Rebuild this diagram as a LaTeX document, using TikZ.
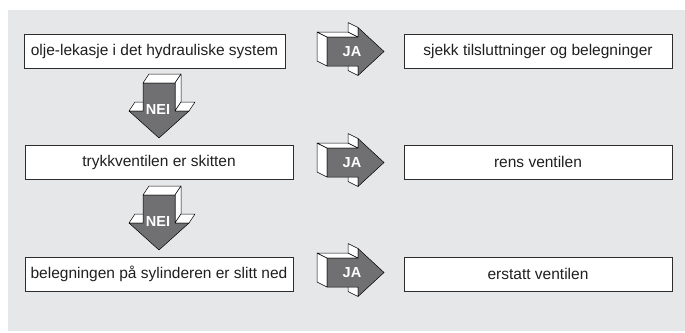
\documentclass[tikz,border=0pt]{standalone}
\usepackage{fontspec}
\setmainfont{Liberation Sans}
\definecolor{bgc}{RGB}{230,231,233}
\definecolor{arrgray}{RGB}{112,112,114}
\definecolor{boxline}{RGB}{45,45,45}
\tikzset{
  textbox/.style={draw=boxline, line width=0.9pt, fill=white, minimum height=34pt,
    inner sep=0pt, font=\fontsize{15.5}{18}\selectfont, text=black!88},
  face/.style={fill=white, draw=black, line width=0.5pt, line join=round},
  frontface/.style={fill=arrgray, draw=black, line width=0.5pt, line join=round},
  arrlabel/.style={text=white, font=\bfseries\fontsize{14.5}{16}\selectfont, inner sep=0pt},
  ja/.pic={
    \path[face] (0,-14.5) -- (-10,-19.5) -- (-10,9.5) -- (0,14.5) -- cycle;
    \path[face] (0,-14.5) -- (-10,-19.5) -- (21,-19.5) -- (31,-14.5) -- cycle;
    \path[face] (31,-24) -- (21,-29) -- (21,-19.5) -- (31,-14.5) -- cycle;
    \path[face] (31,24) -- (21,19) -- (21,9.5) -- (31,14.5) -- cycle;
    \path[frontface] (0,-14.5) -- (31,-14.5) -- (31,-24) -- (57,0) -- (31,24) -- (31,14.5) -- (0,14.5) -- cycle;
    \node[arrlabel] (-lbl) at (25,0.5) {JA};
  },
  nei/.pic={
    \path[face] (-16,0) -- (-10,-9) -- (22,-9) -- (16,0) -- cycle;
    \path[face] (16,0) -- (22,-9) -- (22,19) -- (16,28) -- cycle;
    \path[face] (-30,28) -- (-24,19) -- (-10,19) -- (-16,28) -- cycle;
    \path[face] (16,28) -- (22,19) -- (36,19) -- (30,28) -- cycle;
    \path[frontface] (-16,0) -- (16,0) -- (16,28) -- (30,28) -- (0,55) -- (-30,28) -- (-16,28) -- cycle;
    \node[arrlabel] (-lbl) at (-1,27) {NEI};
  }
}
\begin{document}
\begin{tikzpicture}[x=1pt,y=-1pt]
\useasboundingbox (0,0) rectangle (685,332);
\fill[bgc] (8,10) rectangle (685,331);
% left column
\node[textbox, minimum width=261pt] (a1) at (154.5,51) {olje-lekasje i det hydrauliske system};
\node[textbox, minimum width=268pt] (a2) at (159,162) {trykkventilen er skitten};
\node[textbox, minimum width=268pt] (a3) at (159,274) {belegningen på sylinderen er slitt ned};
% right column
\node[textbox, minimum width=268pt] (b1) at (538,51) {sjekk tilsluttninger og belegninger};
\node[textbox, minimum width=268pt] (b2) at (538,162) {rens ventilen};
\node[textbox, minimum width=268pt] (b3) at (538,274) {erstatt ventilen};
% JA arrows
\pic (ja1) at (327,51.5) {ja};
\pic (ja2) at (327,162.5) {ja};
\pic (ja3) at (327,272.5) {ja};
% NEI arrows
\pic (nei1) at (159,83) {nei};
\pic (nei2) at (159,195) {nei};
\end{tikzpicture}
\end{document}
